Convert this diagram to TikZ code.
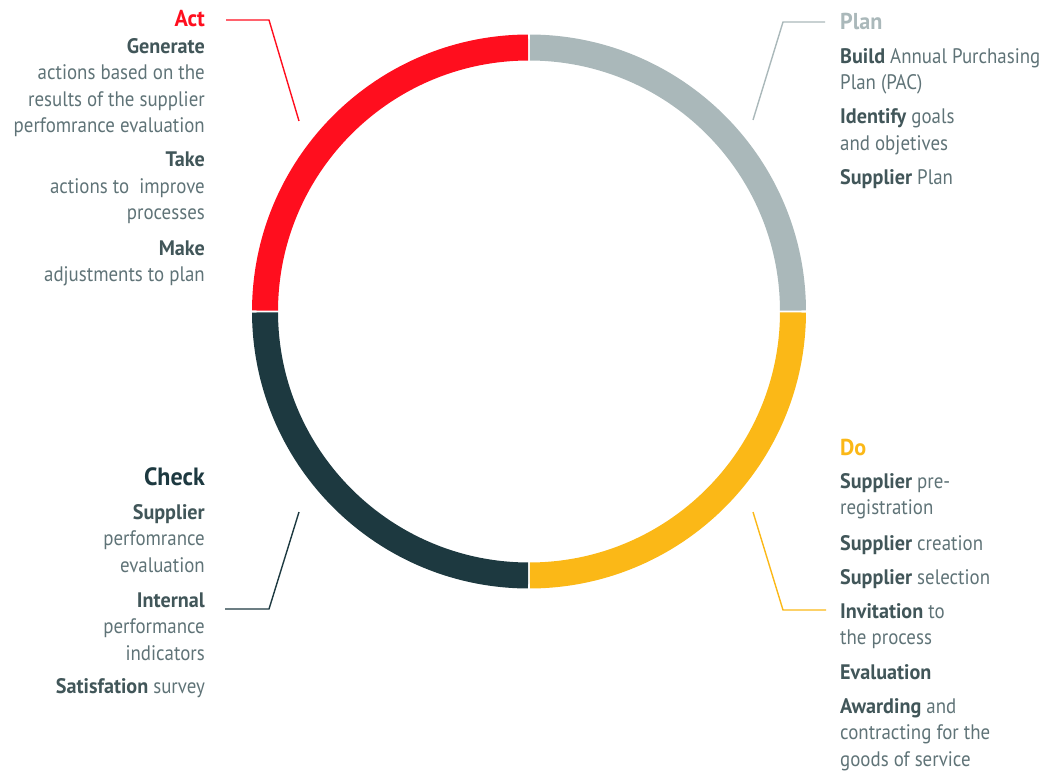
\documentclass[tikz,border=0pt]{standalone}
\usepackage{fontspec}
\setmainfont[FakeStretch=0.9, BoldFeatures={FakeStretch=0.96}]{PT Sans}
\definecolor{actred}{HTML}{FF0E1E}
\definecolor{plangray}{HTML}{AAB8BA}
\definecolor{doyellow}{HTML}{FBB817}
\definecolor{checkdark}{HTML}{1D3940}
\definecolor{boldgray}{HTML}{415659}
\definecolor{bodygray}{HTML}{5F7377}
\newcommand{\kw}[1]{\textcolor{boldgray}{\bfseries #1}}

\begin{document}
\begin{tikzpicture}[x=1pt, y=1pt,
        ring/.style={line width=26pt},
        leader/.style={line width=1.4pt},
        phase/.style={font=\bfseries\fontsize{23}{26}\selectfont, inner sep=0pt},
        lefttxt/.style={font=\fontsize{21}{26.5}\selectfont, text=bodygray, inner sep=0pt, align=right, anchor=base east},
        righttxt/.style={font=\fontsize{21}{26.5}\selectfont, text=bodygray, inner sep=0pt, align=left, anchor=base west}
    ]
    \useasboundingbox (0,0) rectangle (1045,-773);

    % ring in four quarters
    \coordinate (c) at (529,-311.5);
    \draw[ring, plangray] ([shift={(0.2:264)}]c) arc[start angle=0.2, end angle=89.8, radius=264];
    \draw[ring, actred] ([shift={(90.2:264)}]c) arc[start angle=90.2, end angle=179.8, radius=264];
    \draw[ring, checkdark] ([shift={(180.2:264)}]c) arc[start angle=180.2, end angle=269.8, radius=264];
    \draw[ring, doyellow] ([shift={(270.2:264)}]c) arc[start angle=270.2, end angle=359.8, radius=264];

    % Act (anchors sit on the last line)
    \node[phase, text=actred, anchor=base east] (act) at (205,-26.7) {Act};
    \node[lefttxt] (generate) at (205,-132.8) {\kw{Generate}\\actions based on the\\results of the supplier\\perfomrance evaluation};
    \node[lefttxt] (take) at (205,-219.7) {\kw{Take}\\actions to~ improve\\processes};
    \node[lefttxt] (make) at (205,-281.5) {\kw{Make}\\adjustments to plan};

    % Plan
    \node[phase, text=plangray, anchor=base west] (plan) at (840,-29.3) {Plan};
    \node[righttxt] (build) at (840,-90) {\kw{Build} Annual Purchasing\\Plan (PAC)};
    \node[righttxt] (identify) at (840,-150.5) {\kw{Identify} goals\\and objetives};
    \node[righttxt] (supplan) at (840,-184.5) {\kw{Supplier} Plan};

    % Do
    \node[phase, text=doyellow, anchor=base west] (do) at (840,-455) {Do};
    \node[righttxt] (prereg) at (840,-514.8) {\kw{Supplier} pre-\\registration};
    \node[righttxt] (creation) at (840,-550) {\kw{Supplier} creation};
    \node[righttxt] (selection) at (840,-584) {\kw{Supplier} selection};
    \node[righttxt] (invitation) at (840,-644.8) {\kw{Invitation} to\\the process};
    \node[righttxt] (evaluation) at (840,-679.3) {\kw{Evaluation}};
    \node[righttxt] (awarding) at (840,-766.3) {\kw{Awarding} and\\contracting for the\\goods of service};

    % Check
    \node[phase, text=checkdark, anchor=base east, font=\bfseries\fontsize{25}{26}\selectfont] (check) at (205,-485) {Check};
    \node[lefttxt] (supeval) at (205,-572.3) {\kw{Supplier}\\perfomrance\\evaluation};
    \node[lefttxt] (internal) at (205,-660.3) {\kw{Internal}\\performance\\indicators};
    \node[lefttxt] (survey) at (205,-693.3) {\kw{Satisfation} survey};

    % leader lines
    \coordinate (actL) at (226,-20);
    \coordinate (actR) at (299,-121);
    \coordinate (planL) at (825,-22);
    \coordinate (planR) at (753,-120);
    \coordinate (doL) at (826,-610);
    \coordinate (doR) at (753,-512);
    \coordinate (checkL) at (225,-609);
    \coordinate (checkR) at (299,-512);
    \draw[leader, actred] (actL) -- (269,-20) -- (actR);
    \draw[leader, plangray] (planL) -- (783,-22) -- (planR);
    \draw[leader, doyellow] (doL) -- (783,-610) -- (doR);
    \draw[leader, checkdark] (checkL) -- (269,-609) -- (checkR);

\end{tikzpicture}
\end{document}
